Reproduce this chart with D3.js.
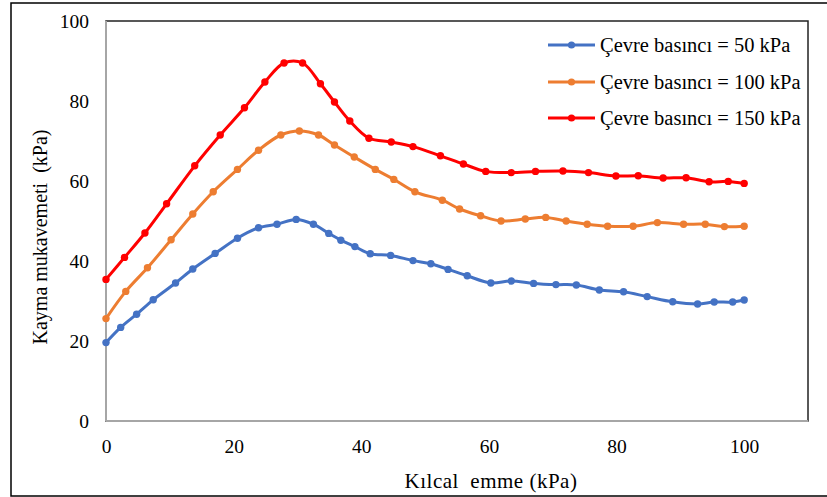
<!DOCTYPE html>
<html><head><meta charset="utf-8">
<script src="https://cdn.jsdelivr.net/npm/d3@7"></script>
<style>body{margin:0;background:#fff}svg{display:block}</style>
</head><body>
<svg id="c" width="827" height="497" font-family="Liberation Serif"></svg>
<script>
const seriesNames = ["Çevre basıncı = 50 kPa","Çevre basıncı = 100 kPa","Çevre basıncı = 150 kPa"];
const seriesColors = ["#4472C4","#ED7D31","#FF0000"];
const x50 = [0,2.3,4.8,7.4,10.9,13.6,17.1,20.6,23.9,26.8,29.8,32.5,34.9,36.8,39.0,41.4,44.6,48.1,50.9,53.6,56.6,60.3,63.5,67.0,70.5,73.7,77.3,81.1,84.8,88.8,92.7,95.3,98.2,100];
const y50 = [19.6,23.4,26.7,30.3,34.5,38.0,41.9,45.7,48.3,49.2,50.4,49.2,46.9,45.2,43.6,41.8,41.4,40.1,39.3,37.9,36.3,34.5,35.0,34.4,34.1,34.0,32.75,32.3,31.1,29.8,29.25,29.75,29.75,30.25];
const x100 = [0,3.1,6.5,10.2,13.6,16.8,20.6,23.9,27.4,30.3,33.3,35.8,38.9,42.2,45.1,48.4,52.7,55.4,58.7,61.9,65.7,68.9,72.1,75.4,78.6,82.6,86.4,90.5,93.9,96.9,100];
const y100 = [25.6,32.4,38.3,45.3,51.75,57.3,62.9,67.7,71.5,72.5,71.5,69.0,66.0,62.9,60.4,57.3,55.2,53.0,51.3,50.0,50.5,50.9,50.0,49.2,48.7,48.7,49.6,49.2,49.2,48.6,48.7];
const x150 = [0,2.9,6.1,9.5,13.9,17.9,21.7,24.9,27.9,30.8,33.6,35.8,38.2,41.2,44.7,48.1,52.4,56.0,59.5,63.5,67.3,71.6,75.6,79.9,83.4,87.3,90.9,94.5,97.5,100];
const y150 = [35.4,40.9,47.0,54.3,63.8,71.5,78.3,84.75,89.5,89.5,84.3,79.75,75.0,70.7,69.75,68.6,66.3,64.25,62.4,62.1,62.4,62.5,62.1,61.25,61.3,60.75,60.8,59.8,59.9,59.4];
const xTicks = [0,20,40,60,80,100];
const yTicks = [0,20,40,60,80,100];
const xTitle = "Kılcal  emme (kPa)";
const yTitle = "Kayma mukavemeti  (kPa)";

const svg = d3.select("#c");
const L=106, R=808, T=21, B=421;
const x = d3.scaleLinear().domain([0,110]).range([L,R]);
const y = d3.scaleLinear().domain([0,100]).range([B,T]);

svg.append("rect").attr("x",11).attr("y",3).attr("width",830).attr("height",493)
  .attr("fill","none").attr("stroke","#000").attr("stroke-width",1.5);
svg.append("rect").attr("x",L).attr("y",T).attr("width",R-L).attr("height",B-T)
  .attr("fill","none").attr("stroke","#222").attr("stroke-width",1.5);

const xAxis = svg.append("g").attr("transform",`translate(0,${B})`)
  .call(d3.axisBottom(x).tickValues(xTicks).tickSize(0).tickPadding(18));
const yAxis = svg.append("g").attr("transform",`translate(${L},0)`)
  .call(d3.axisLeft(y).tickValues(yTicks).tickSize(0).tickPadding(17));
[xAxis,yAxis].forEach(a=>{
  a.attr("font-family","Liberation Serif").attr("font-size",19.5);
  a.select(".domain").attr("stroke","#A6A6A6").attr("stroke-width",2);
  a.selectAll("text").attr("fill","#000");
});
xAxis.select(".domain").attr("d",`M${L},0H${R}`);
yAxis.select(".domain").attr("d",`M0,${B}V${T}`);

svg.append("text").attr("x",491).attr("y",488).attr("text-anchor","middle")
  .attr("font-size",21).attr("letter-spacing",0.5).style("white-space","pre").text(xTitle);
svg.append("text").attr("transform","translate(47,237) rotate(-90)").attr("text-anchor","middle")
  .attr("font-size",20).style("white-space","pre").text(yTitle);

const data = [d3.zip(x50,y50), d3.zip(x100,y100), d3.zip(x150,y150)];
const line = d3.line().x(d=>x(d[0])).y(d=>y(d[1])).curve(d3.curveCatmullRom.alpha(0.5));
data.forEach((pts,i)=>{
  const g = svg.append("g");
  g.append("path").attr("d",line(pts)).attr("fill","none").attr("stroke",seriesColors[i]).attr("stroke-width",3);
  g.selectAll("circle").data(pts).join("circle").attr("cx",d=>x(d[0])).attr("cy",d=>y(d[1])).attr("r",3.7).attr("fill",seriesColors[i]);
});

const legY = [45,82,118];
seriesNames.forEach((n,i)=>{
  const g = svg.append("g");
  g.append("line").attr("x1",548).attr("x2",595).attr("y1",legY[i]).attr("y2",legY[i]).attr("stroke",seriesColors[i]).attr("stroke-width",3);
  g.append("circle").attr("cx",571.5).attr("cy",legY[i]).attr("r",3.6).attr("fill",seriesColors[i]);
  g.append("text").attr("x",600).attr("y",legY[i]+7).attr("font-size",20.5).text(n);
});
</script>
</body></html>
